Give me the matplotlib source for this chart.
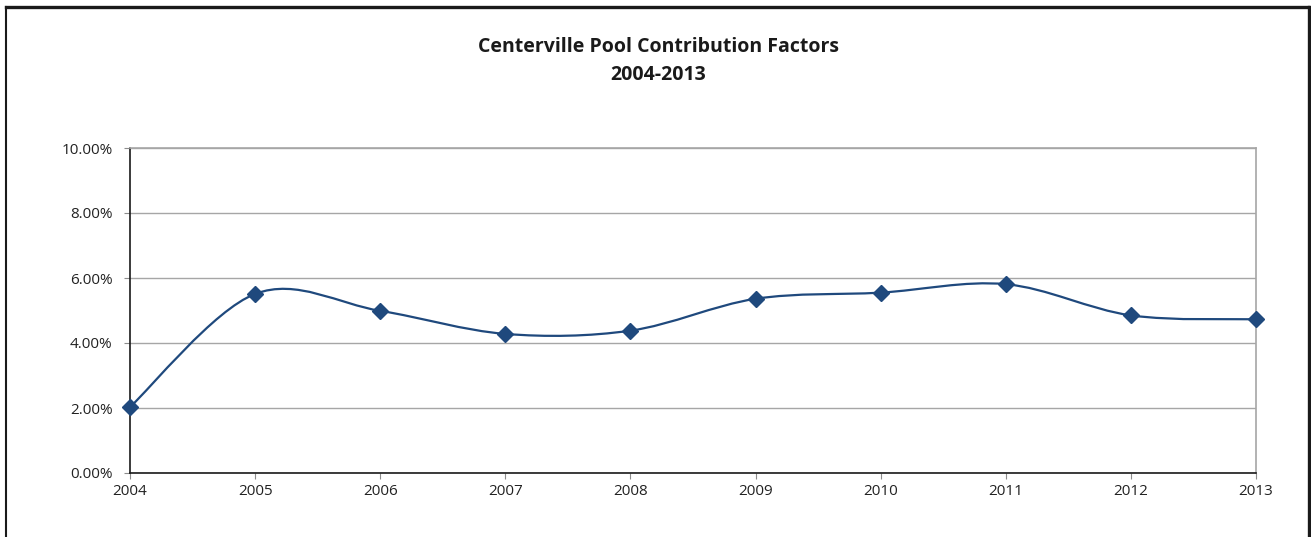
import numpy as np
import matplotlib
matplotlib.use("Agg")
import matplotlib.pyplot as plt
from matplotlib.path import Path
from matplotlib.patches import PathPatch
from matplotlib.lines import Line2D
from matplotlib.ticker import FuncFormatter

years = [2004, 2005, 2006, 2007, 2008, 2009, 2010, 2011, 2012, 2013]
factors = [2.03, 5.51, 4.99, 4.28, 4.38, 5.36, 5.55, 5.81, 4.85, 4.73]

title = "Centerville Pool Contribution Factors\n2004-2013"
navy = "#1F497D"

plt.rcParams['font.family'] = ['Open Sans', 'DejaVu Sans']

W, H = 1311, 537
fig = plt.figure(figsize=(W / 100, H / 100), dpi=100)
ax = fig.add_axes([130 / W, 1 - 473 / H, (1256 - 130) / W, (473 - 148) / H])


def smooth_path(xs, ys):
    # cubic bezier through the points, excel-style smoothing
    pts = np.column_stack([xs, ys]).astype(float)
    ext = np.vstack([pts[0], pts, pts[-1]])
    verts = [pts[0]]
    codes = [Path.MOVETO]
    for i in range(len(pts) - 1):
        p0, p1, p2, p3 = ext[i], ext[i + 1], ext[i + 2], ext[i + 3]
        verts += [p1 + (p2 - p0) / 6, p2 - (p3 - p1) / 6, p2]
        codes += [Path.CURVE4] * 3
    return Path(verts, codes)


ax.add_patch(PathPatch(smooth_path(years, factors), facecolor="none",
                       edgecolor=navy, lw=1.6, zorder=3, clip_on=False))
ax.plot(years, factors, linestyle="none", marker="D", markersize=7.8,
        color=navy, zorder=4, clip_on=False)

ax.set_xlim(2004, 2013)
ax.set_ylim(0, 10)
ax.set_xticks(years)
ax.set_yticks(np.arange(0, 11, 2))
ax.yaxis.set_major_formatter(FuncFormatter(lambda v, p: f"{v:.2f}%"))

ax.grid(axis="y", color="#A6A6A6", lw=1.0)
ax.set_axisbelow(True)
for side in ["left", "bottom"]:
    ax.spines[side].set_color("#1a1a1a")
    ax.spines[side].set_linewidth(1.2)
for side in ["top", "right"]:
    ax.spines[side].set_color("#A6A6A6")
    ax.spines[side].set_linewidth(1.2)

ax.tick_params(axis="y", length=4, width=0.8, color="#8c8c8c", pad=8.5,
               labelsize=11, labelcolor="#222222")
ax.tick_params(axis="x", length=4, width=0.8, color="#8c8c8c", pad=4,
               labelsize=11, labelcolor="#222222")

fig.text(658 / W, 1 - 61 / H, title, ha="center", va="center",
         fontsize=14, fontweight="bold", color="#1a1a1a", linespacing=1.5)

# chart frame
frame = "#1a1a1a"
fig.add_artist(Line2D([6 / W, 1308 / W], [1 - 6.5 / H, 1 - 6.5 / H],
                      transform=fig.transFigure, color=frame, lw=2.4))
fig.add_artist(Line2D([6 / W, 6 / W], [0, 1 - 6.5 / H],
                      transform=fig.transFigure, color=frame, lw=1.5))
fig.add_artist(Line2D([1308.5 / W, 1308.5 / W], [0, 1 - 6.5 / H],
                      transform=fig.transFigure, color=frame, lw=2.4))

fig.savefig("out.png", dpi=100, facecolor="white")
